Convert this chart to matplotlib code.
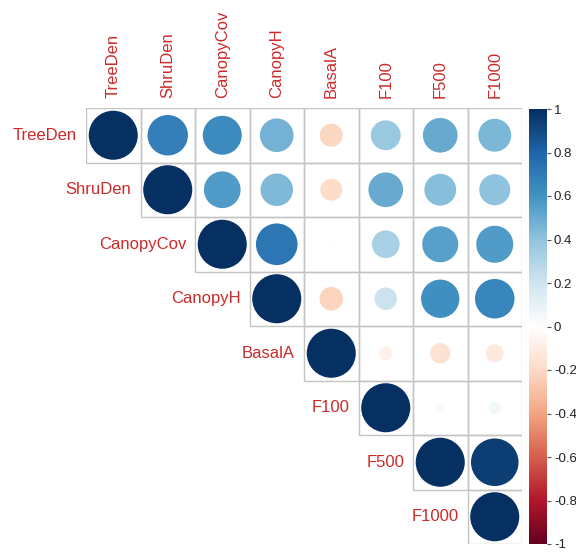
import numpy as np
import matplotlib
matplotlib.use("Agg")
import matplotlib.pyplot as plt
from matplotlib.colors import LinearSegmentedColormap, Normalize
from matplotlib.patches import Circle, Rectangle

plt.rcParams['font.family'] = ['Liberation Sans', 'DejaVu Sans']

variables = ["TreeDen", "ShruDen", "CanopyCov", "CanopyH", "BasalA", "F100", "F500", "F1000"]

# upper-triangle correlations, row by row (excluding the diagonal)
row_treeden = [0.68, 0.63, 0.47, -0.22, 0.37, 0.50, 0.45]
row_shruden = [0.56, 0.44, -0.20, 0.50, 0.42, 0.40]
row_canopycov = [0.72, 0.01, 0.32, 0.54, 0.57]
row_canopyh = [-0.23, 0.21, 0.61, 0.65]
row_basala = [-0.08, -0.17, -0.13]
row_f100 = [0.03, 0.06]
row_f500 = [0.94]

upper_rows = [row_treeden, row_shruden, row_canopycov, row_canopyh,
              row_basala, row_f100, row_f500, []]

n = len(variables)
corr = np.eye(n)
for i, vals in enumerate(upper_rows):
    for k, v in enumerate(vals):
        j = i + 1 + k
        corr[i, j] = v
        corr[j, i] = v

cmap = LinearSegmentedColormap.from_list(
    "rdbu_corr",
    ["#67001F", "#B2182B", "#D6604D", "#F4A582", "#FDDBC7", "#FFFFFF",
     "#D1E5F0", "#92C5DE", "#4393C3", "#2166AC", "#053061"], N=200)
norm = Normalize(-1, 1)

W, H = 576, 555
fig = plt.figure(figsize=(W / 100, H / 100), dpi=100)

gx0, gx1, gy0, gy1 = 86, 522, 108, 544
ax = fig.add_axes([gx0 / W, 1 - gy1 / H, (gx1 - gx0) / W, (gy1 - gy0) / H])
ax.set_xlim(0, n)
ax.set_ylim(n, 0)
ax.axis("off")

label_color = "#CC2A2A"
grid_color = "#C4C4C4"

for i in range(n):
    for j in range(i, n):
        ax.add_patch(Rectangle((j, i), 1, 1, facecolor="none",
                               edgecolor=grid_color, lw=1.0, zorder=1))
        r = corr[i, j]
        rad = 0.45 * np.sqrt(abs(r))
        ax.add_patch(Circle((j + 0.5, i + 0.5), rad, facecolor=cmap(norm(r)),
                            edgecolor="none", zorder=2))

cell_px = (gx1 - gx0) / n
gap = 9 / cell_px
for k, name in enumerate(variables):
    ax.text(k + 0.5, -10 / cell_px, name, rotation=90, ha="center", va="bottom",
            fontsize=12, color=label_color, clip_on=False)
    ax.text(k - gap, k + 0.5, name, ha="right", va="center",
            fontsize=12, color=label_color, clip_on=False)

# colour legend
cx0, cx1, cy0, cy1 = 529, 547, 109, 544
cax = fig.add_axes([cx0 / W, 1 - cy1 / H, (cx1 - cx0) / W, (cy1 - cy0) / H])
grad = np.linspace(-1, 1, 200).reshape(-1, 1)
cax.imshow(grad, aspect="auto", cmap=cmap, norm=norm, origin="lower",
           extent=[0, 1, -1, 1])
cax.set_xlim(0, 1)
cax.set_ylim(-1, 1)
for s in cax.spines.values():
    s.set_visible(False)
cax.set_xticks([])
ticks = np.round(np.arange(-1, 1.01, 0.2), 1)
cax.yaxis.tick_right()
cax.set_yticks(ticks)
cax.set_yticklabels([("%g" % t) if t != 0 else "0" for t in ticks])
cax.tick_params(axis="y", length=3, width=0.8, color="#555555", pad=2,
                labelsize=9.5, labelcolor="#222222")

fig.savefig("out.png", dpi=100)
